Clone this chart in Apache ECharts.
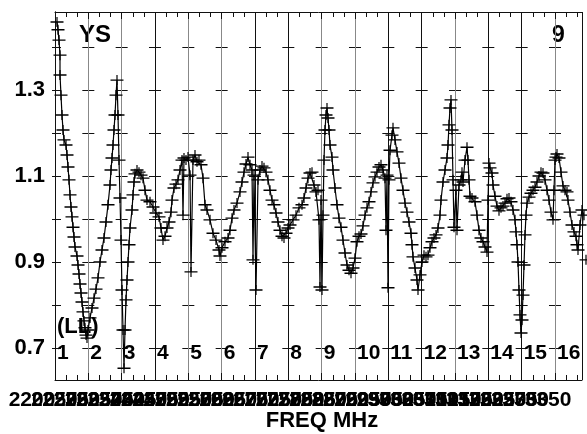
<!DOCTYPE html>
<html><head><meta charset="utf-8">
<script src="https://cdn.jsdelivr.net/npm/echarts@6/dist/echarts.min.js"></script>
<style>html,body{margin:0;padding:0;background:#fff}#c{width:587px;height:434px}</style>
</head><body><div id="c"></div>
<script>
// Channel position (1 unit = one channel panel) and ratio value
const ratioPoints = [
[0.06,1.458],[0.09,1.440],[0.12,1.416],[0.15,1.381],[0.15,1.335],[0.18,1.288],[0.21,1.242],[0.24,1.207],[0.27,1.184],[0.33,1.172],
[0.36,1.149],[0.39,1.121],[0.42,1.091],[0.45,1.056],[0.48,1.028],[0.51,1.005],[0.54,0.981],[0.57,0.958],[0.60,0.935],[0.66,0.914],
[0.69,0.893],[0.72,0.872],[0.75,0.849],[0.78,0.828],[0.81,0.807],[0.84,0.784],[0.87,0.763],[0.90,0.747],[0.93,0.730],[0.96,0.723],
[0.99,0.742],[1.05,0.770],[1.11,0.793],[1.17,0.816],[1.23,0.837],[1.29,0.863],[1.35,0.900],[1.41,0.928],[1.47,0.956],[1.53,0.993],
[1.59,1.033],[1.65,1.079],[1.68,1.114],[1.71,1.142],[1.74,1.172],[1.77,1.207],[1.80,1.242],[1.83,1.288],[1.86,1.323],[1.89,1.242],
[1.92,1.137],[1.95,1.049],[1.98,0.951],[2.01,0.835],[2.04,0.742],[2.07,0.653],[2.10,0.742],[2.13,0.812],[2.16,0.858],[2.19,0.900],
[2.22,0.940],[2.25,0.979],[2.31,1.021],[2.34,1.056],[2.37,1.086],[2.40,1.105],[2.46,1.114],[2.52,1.109],[2.58,1.102],[2.64,1.095],
[2.70,1.067],[2.76,1.044],[2.85,1.040],[2.94,1.028],[3.03,1.014],[3.12,1.005],[3.18,0.979],[3.24,0.951],[3.30,0.960],[3.36,0.979],
[3.42,0.993],[3.48,1.016],[3.51,1.044],[3.57,1.072],[3.63,1.081],[3.69,1.091],[3.75,1.114],[3.81,1.137],[3.84,1.009],[3.87,1.142],
[3.93,1.137],[3.99,1.144],[4.05,1.102],[4.08,0.877],[4.14,1.137],[4.20,1.149],[4.26,1.133],[4.32,1.137],[4.38,1.126],[4.44,1.095],
[4.50,1.033],[4.56,1.021],[4.65,0.998],[4.74,0.967],[4.83,0.951],[4.92,0.928],[4.95,0.914],[5.01,0.933],[5.10,0.947],[5.19,0.956],
[5.25,0.974],[5.31,1.002],[5.37,1.021],[5.46,1.037],[5.55,1.063],[5.61,1.086],[5.67,1.109],[5.73,1.128],[5.79,1.144],[5.85,1.126],
[5.91,1.114],[5.94,0.905],[5.97,1.102],[6.03,0.835],[6.09,1.091],[6.15,1.114],[6.21,1.123],[6.27,1.119],[6.33,1.109],[6.39,1.091],
[6.45,1.067],[6.51,1.044],[6.57,1.033],[6.63,1.014],[6.69,0.993],[6.75,0.974],[6.81,0.960],[6.87,0.956],[6.93,0.967],[6.99,0.979],
[7.05,0.986],[7.14,0.998],[7.23,1.009],[7.32,1.026],[7.41,1.033],[7.47,1.049],[7.53,1.072],[7.59,1.095],[7.65,1.107],[7.71,1.109],
[7.77,1.079],[7.83,1.063],[7.89,1.067],[7.92,0.998],[7.95,0.842],[7.98,1.044],[8.01,0.835],[8.04,1.009],[8.07,1.137],[8.10,1.207],
[8.13,1.242],[8.16,1.258],[8.19,1.235],[8.22,1.207],[8.25,1.172],[8.31,1.144],[8.34,1.114],[8.40,1.072],[8.46,1.033],[8.52,1.002],
[8.58,0.981],[8.64,0.951],[8.70,0.921],[8.76,0.893],[8.82,0.881],[8.88,0.874],[8.94,0.886],[9.00,0.909],[9.06,0.947],[9.12,0.960],
[9.18,0.965],[9.24,0.984],[9.30,1.009],[9.36,1.026],[9.42,1.040],[9.48,1.063],[9.54,1.084],[9.60,1.098],[9.66,1.109],[9.72,1.121],
[9.78,1.126],[9.84,1.114],[9.90,1.095],[9.93,0.974],[9.96,1.102],[9.99,0.840],[10.02,1.091],[10.05,1.160],[10.11,1.195],[10.14,1.212],
[10.20,1.184],[10.26,1.156],[10.32,1.130],[10.38,1.095],[10.44,1.067],[10.50,1.037],[10.56,1.016],[10.62,0.993],[10.68,0.967],[10.71,0.940],
[10.74,0.912],[10.80,0.886],[10.86,0.858],[10.89,0.835],[10.95,0.870],[11.01,0.900],[11.07,0.916],[11.13,0.912],[11.19,0.916],[11.25,0.933],
[11.31,0.947],[11.37,0.956],[11.43,0.963],[11.49,0.979],[11.55,1.009],[11.58,1.044],[11.64,1.086],[11.70,1.114],[11.76,1.142],[11.79,1.172],
[11.82,1.219],[11.85,1.258],[11.88,1.277],[11.91,1.207],[11.94,1.091],[11.97,0.981],[12.03,1.067],[12.06,0.974],[12.12,1.079],[12.18,1.091],
[12.21,1.109],[12.24,1.086],[12.30,1.137],[12.36,1.167],[12.39,1.137],[12.42,1.091],[12.45,1.053],[12.51,1.049],[12.60,1.040],[12.66,1.009],
[12.72,0.974],[12.78,0.956],[12.84,0.947],[12.90,0.935],[12.96,0.923],[12.99,1.044],[13.02,1.130],[13.05,1.119],[13.11,1.107],[13.14,1.079],
[13.20,1.053],[13.26,1.030],[13.32,1.019],[13.38,1.026],[13.44,1.030],[13.50,1.037],[13.56,1.047],[13.62,1.049],[13.68,1.040],[13.74,1.021],
[13.80,0.998],[13.83,0.970],[13.86,0.940],[13.89,0.900],[13.92,0.835],[13.95,0.777],[13.98,0.735],[14.01,0.765],[14.04,0.823],[14.07,0.893],
[14.10,0.963],[14.13,1.009],[14.16,1.037],[14.22,1.051],[14.28,1.060],[14.34,1.067],[14.40,1.074],[14.46,1.086],[14.52,1.100],[14.58,1.109],
[14.64,1.107],[14.70,1.091],[14.76,1.067],[14.82,1.044],[14.88,1.016],[14.94,0.998],[14.97,1.067],[15.00,1.137],[15.03,1.144],[15.06,1.151],
[15.12,1.142],[15.18,1.109],[15.24,1.077],[15.30,1.067],[15.36,1.063],[15.39,1.044],[15.45,1.016],[15.51,0.986],[15.57,0.970],[15.63,0.960],
[15.66,0.940],[15.69,0.928],[15.75,0.986],[15.81,1.021],[15.87,1.009],[15.93,0.905]
];
const channelLabels = ['1','2','3','4','5','6','7','8','9','10','11','12','13','14','15','16'];
const yLabelValues = [0.7, 0.9, 1.1, 1.3];
const yTickValues = [0.7, 0.8, 0.9, 1.0, 1.1, 1.2, 1.3, 1.4];
const freqLabelValues = [2200,2225,2250,2275,2300,2325,2350,2375,2400,2425,2450,2475,2500,2525,2550,2575,2600,2625,2650,2675,2700,2725,2750,2775,2800,2825,2850,2875,2900,2925,2950,2975,3000,3025,3050,3075,3100,3125,3150,3175,3200,3225,3250,3275,3300,3325,3350];
const titleLeft = 'YS', titleRight = '9', polLabel = '(LL)', xName = 'FREQ MHz';

const FONT = "'Liberation Sans', Arial, sans-serif";
const lineColors = ['#111','#888','#888','#111','#888','#888','#111','#111','#888','#888','#111','#111','#888','#111','#111','#888','#111'];
// cross ticks on the helper axis: levels 0.6 .. 1.5, the outer two hidden
const crossColors = ['rgba(0,0,0,0)','#111','#111','#111','#111','#111','#111','#111','#111','rgba(0,0,0,0)'];
const plusPath = 'path://M0,4.3L13,4.3L13,5.7L0,5.7ZM5.9,0L7.1,0L7.1,10L5.9,10Z';

const chart = echarts.init(document.getElementById('c'), null, {renderer: 'canvas'});
chart.setOption({
  animation: false,
  backgroundColor: '#fff',
  grid: [
    {left: 55, right: 5, top: 12, bottom: 54, outerBoundsMode: 'none'},
    {left: 32, right: 39, top: 12, bottom: 54, outerBoundsMode: 'none'},
    {left: 55, right: 5, top: 4, bottom: 43, outerBoundsMode: 'none'}
  ],
  xAxis: [
    {gridIndex: 0, type: 'value', position: 'bottom', min: 0, max: 15.81, interval: 1,
     axisLine: {show: true, lineStyle: {color: '#111', width: 1}},
     axisTick: {show: true, inside: true, length: 7, lineStyle: {color: '#111'}},
     minorTick: {show: true, splitNumber: 3, length: 5, lineStyle: {color: '#111'}},
     axisLabel: {show: true, inside: true, margin: 16, align: 'left', padding: [0,0,0,2],
       color: '#000', fontFamily: FONT, fontWeight: 'bold', fontSize: 21,
       formatter: v => (Number.isInteger(v) && v < channelLabels.length) ? channelLabels[v] : ''},
     splitLine: {show: true, lineStyle: {color: lineColors, width: 1}}
    },
    {gridIndex: 0, type: 'value', position: 'top', min: 0, max: 15.81, interval: 1,
     axisLine: {show: true, lineStyle: {color: '#111', width: 1}},
     axisTick: {show: true, inside: true, length: 7, lineStyle: {color: '#111'}},
     minorTick: {show: true, splitNumber: 3, length: 5, lineStyle: {color: '#111'}},
     axisLabel: {show: false}, splitLine: {show: false}
    },
    {gridIndex: 1, type: 'value', position: 'bottom', min: 2200, max: 3350, interval: 25,
     axisLine: {show: false}, axisTick: {show: false}, splitLine: {show: false},
     axisLabel: {show: true, margin: 10, color: '#000', fontFamily: FONT, fontWeight: 'bold', fontSize: 21,
       customValues: freqLabelValues, hideOverlap: false, showMinLabel: true, showMaxLabel: true,
       formatter: v => String(v)}
    },
    {gridIndex: 2, type: 'value', min: 0, max: 15.81, interval: 1, show: false}
  ],
  yAxis: [
    {gridIndex: 0, type: 'value', min: 0.6256, max: 1.4814,
     axisLine: {show: true, lineStyle: {color: '#111', width: 1}},
     axisTick: {show: true, inside: false, length: 3, customValues: yTickValues, lineStyle: {color: '#111'}},
     axisLabel: {show: true, margin: 10, customValues: yLabelValues, color: '#000', fontFamily: FONT, fontWeight: 'bold', fontSize: 22,
       formatter: v => v.toFixed(1)},
     splitLine: {show: false}
    },
    {gridIndex: 0, type: 'value', position: 'right', min: 0.6256, max: 1.4814,
     axisLine: {show: true, lineStyle: {color: '#111', width: 1}},
     axisTick: {show: false}, axisLabel: {show: false}, splitLine: {show: false}
    },
    {gridIndex: 1, type: 'value', show: false, min: 0, max: 1},
    {gridIndex: 2, type: 'value', min: 0.6, max: 1.5, interval: 0.1,
     axisLine: {show: false}, axisTick: {show: false}, axisLabel: {show: false},
     splitLine: {show: true, lineStyle: {color: crossColors, width: 1, type: [6, 21.333, 6, 0]}}
    }
  ],
  series: [
    {
      type: 'line', xAxisIndex: 0, yAxisIndex: 0,
      data: ratioPoints, clip: false,
      symbol: plusPath, symbolSize: [13, 10], showSymbol: true, showAllSymbol: true,
      itemStyle: {color: '#000'},
      lineStyle: {color: '#000', width: 1.2},
      emphasis: {disabled: true}, z: 3
    }
  ],
  graphic: [
    {type: 'text', left: 79, top: 23, style: {text: titleLeft, fill: '#000', font: 'bold 24px ' + FONT}},
    {type: 'text', left: 552, top: 24, style: {text: titleRight, fill: '#000', font: 'bold 23px ' + FONT}},
    {type: 'text', left: 57, top: 316, style: {text: polLabel, fill: '#000', font: 'bold 22px ' + FONT}},
    {type: 'text', x: 322, y: 421, style: {text: xName, fill: '#000', font: 'bold 22px ' + FONT, textAlign: 'center', textVerticalAlign: 'middle'}}
  ]
});
</script></body></html>
